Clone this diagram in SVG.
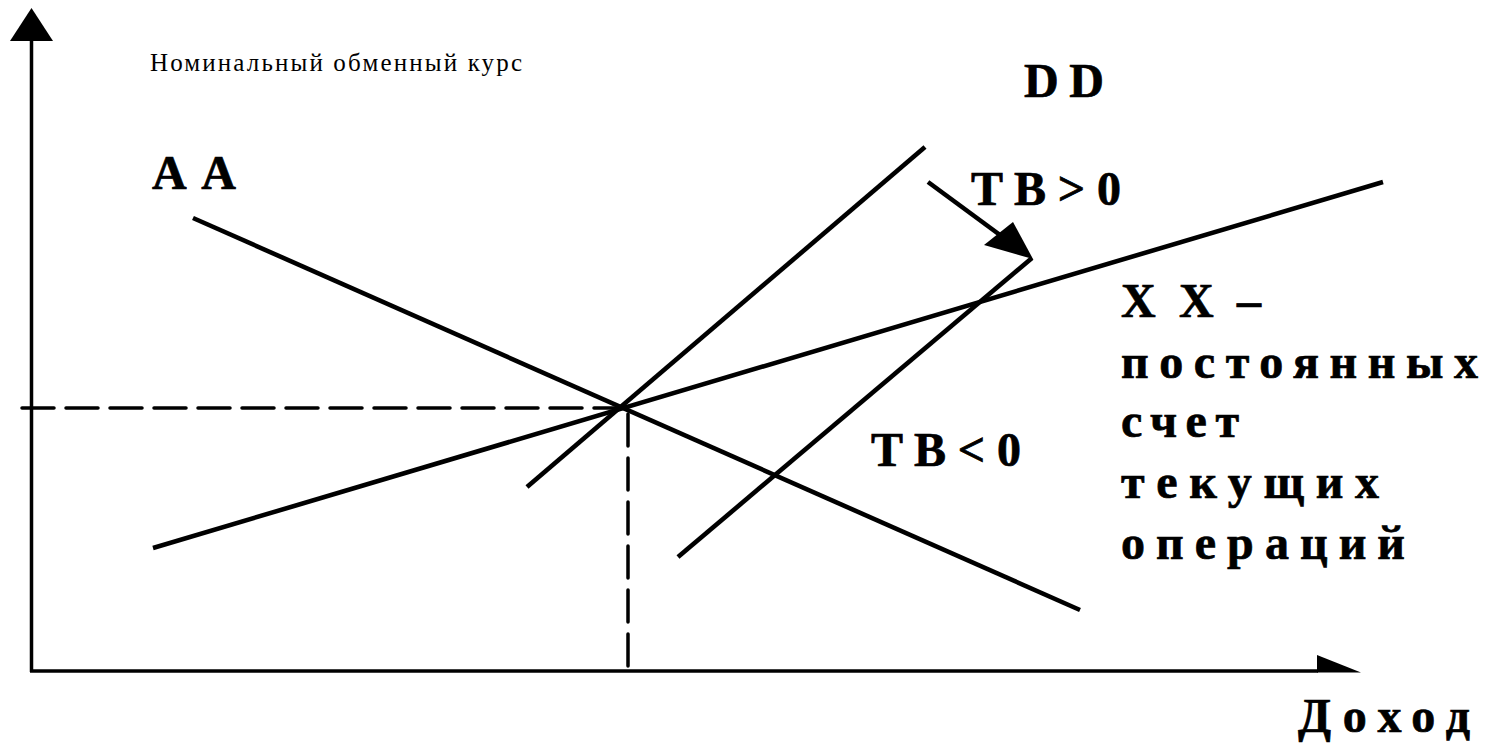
<svg xmlns="http://www.w3.org/2000/svg" width="1490" height="745" viewBox="0 0 1490 745">
<style>
.ln{stroke:#000;stroke-width:4.6;fill:none;stroke-linecap:butt}
.ax{stroke:#000;stroke-width:3.5;fill:none}
.dash{stroke:#000;stroke-width:3.5;fill:none;stroke-dasharray:32 12;stroke-linecap:round}
.lbl{font-weight:bold;font-size:48px;fill:#000;stroke:#000;stroke-width:0.7}
.ttl{font-size:25px;fill:#000}
</style>
<rect width="1490" height="745" fill="#fff"/>
<g id="axes">
<line class="ax" x1="31.5" y1="672" x2="31.5" y2="38"/>
<polygon points="31.5,8 53,41 10,41" fill="#000"/>
<line class="ax" x1="30" y1="671" x2="1318" y2="671"/>
<polygon points="1317,655 1361,672.5 1317,672.5" fill="#000"/>
</g>
<g id="connectors">
<line id="AA" class="ln" x1="193" y1="218" x2="1080" y2="610"/>
<line id="XX" class="ln" x1="153" y1="548" x2="1383" y2="182"/>
<line id="DD1" class="ln" x1="527" y1="487" x2="925" y2="147"/>
<line id="DD2" class="ln" x1="678" y1="557" x2="1032" y2="258"/>
<line id="shift" class="ln" stroke-width="3.2" x1="928" y1="182" x2="1000" y2="235"/>
<polygon points="1033,259 1013,222 984,245" fill="#000"/>
<line class="dash" x1="22" y1="408" x2="620" y2="408"/>
<line class="dash" x1="628" y1="414" x2="628" y2="668"/>
</g>
<g font-family="Liberation Serif, serif">
<g id="title"><text class="ttl" x="150" y="71" textLength="372" lengthAdjust="spacing">Номинальный обменный курс</text></g>
<g id="label-AA"><text class="lbl" x="152" y="189" textLength="84" lengthAdjust="spacing">A A</text></g>
<g id="label-DD"><text class="lbl" x="1024" y="97" font-size="54" textLength="80" lengthAdjust="spacing">D D</text></g>
<g id="label-TBpos"><text class="lbl" x="971" y="205" textLength="150" lengthAdjust="spacing">T B &gt; 0</text></g>
<g id="label-TBneg"><text class="lbl" x="871" y="466" textLength="150" lengthAdjust="spacing">T B &lt; 0</text></g>
<g id="label-XX">
<text class="lbl" x="1121" y="317" textLength="140" lengthAdjust="spacing">X X –</text>
<text class="lbl" x="1121" y="378" textLength="357" lengthAdjust="spacing">постоянных</text>
<text class="lbl" x="1121" y="437" textLength="118" lengthAdjust="spacing">счет</text>
<text class="lbl" x="1121" y="498" textLength="258" lengthAdjust="spacing">текущих</text>
<text class="lbl" x="1121" y="559" textLength="284" lengthAdjust="spacing">операций</text>
</g>
<g id="label-income"><text class="lbl" x="1298" y="732" textLength="172" lengthAdjust="spacing">Доход</text></g>
</g>
</svg>
